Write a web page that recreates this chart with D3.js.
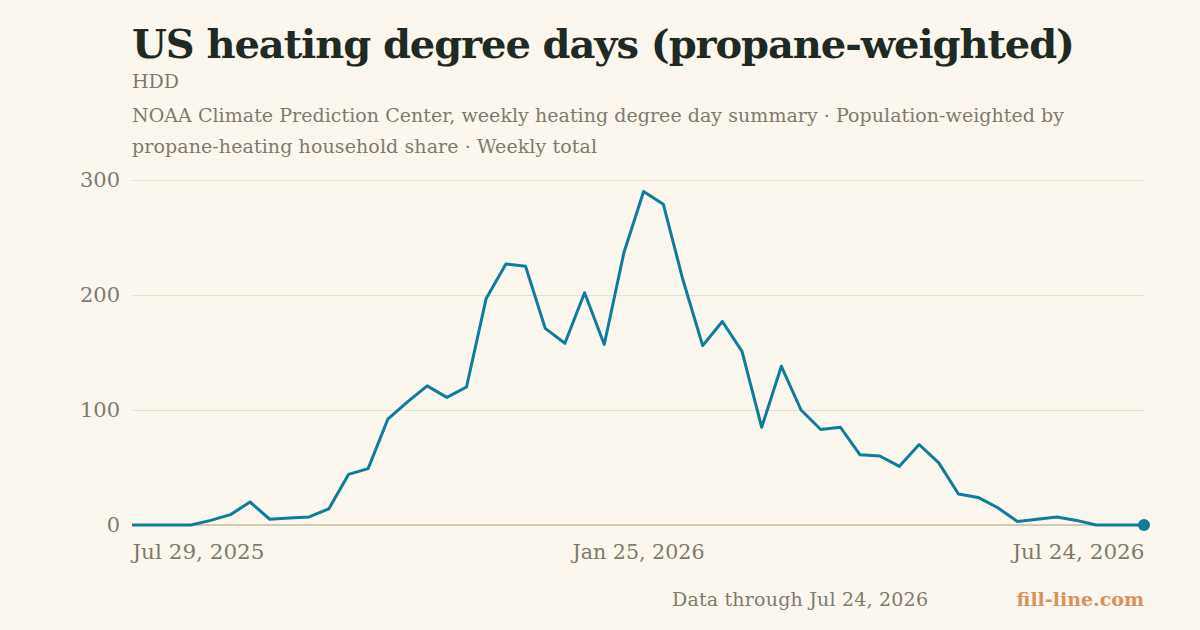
<!DOCTYPE html>
<html><head><meta charset="utf-8">
<script src="https://cdn.jsdelivr.net/npm/d3@7"></script>
<style>
body{margin:0;background:#fbf7ee;}
svg{display:block;font-family:"DejaVu Serif",Georgia,serif;}
</style></head>
<body><svg id="c" width="1200" height="630"></svg>
<script>
const width = 1200, height = 630;
const margin = {top: 180, right: 56, bottom: 105, left: 132};

// weekly totals
const startDate = new Date(2025, 6, 29);
const endDate = new Date(2026, 6, 24);
const hdd = [0,0,0,0,4,9,20,5,6,7,14,44,49,92,107,121,111,120,197,227,
  225,171,158,202,157,237,290,279,213,156,177,151,85,138,100,83,85,61,60,51,
  70,54,27,24,15,3,5,7,4,0,0,0,0];
const yTicks = [0, 100, 200, 300];
const xTicks = [new Date(2025, 6, 29), new Date(2026, 0, 25), new Date(2026, 6, 24)];

const dates = hdd.map((d, i) => i === hdd.length - 1 ? endDate : d3.timeDay.offset(startDate, 7 * i));
const data = hdd.map((v, i) => ({date: dates[i], v}));

const svg = d3.select('#c');
const x = d3.scaleTime().domain([startDate, endDate]).range([margin.left, width - margin.right]);
const y = d3.scaleLinear().domain([0, 300]).range([height - margin.bottom, margin.top]);

// titles
svg.append('text').attr('x', 132).attr('y', 58).attr('font-size', 40).attr('font-weight', 'bold')
  .attr('fill', '#1f2a24').attr('textLength', 943).text('US heating degree days (propane-weighted)');
svg.append('text').attr('x', 132).attr('y', 88).attr('font-size', 19).attr('fill', '#7d7b6c').text('HDD');
svg.append('text').attr('x', 132).attr('y', 122).attr('font-size', 19).attr('fill', '#7d7b6c')
  .attr('textLength', 932).text('NOAA Climate Prediction Center, weekly heating degree day summary · Population-weighted by');
svg.append('text').attr('x', 132).attr('y', 153).attr('font-size', 19).attr('fill', '#7d7b6c')
  .attr('textLength', 465).text('propane-heating household share · Weekly total');

// gridlines + y labels
const yAxis = d3.axisLeft(y).tickValues(yTicks).tickSize(-(width - margin.right - margin.left)).tickFormat(d3.format('d'));
const gy = svg.append('g').attr('transform', `translate(${margin.left},0)`).call(yAxis);
gy.select('.domain').remove();
gy.selectAll('.tick line').attr('stroke', '#e6e0cf');
gy.selectAll('.tick text').attr('font-size', 21).attr('fill', '#7d7b6c').attr('x', -12)
  .attr('font-family', '"DejaVu Serif",Georgia,serif');

// x axis
svg.append('line').attr('x1', margin.left).attr('x2', width - margin.right)
  .attr('y1', y(0)).attr('y2', y(0)).attr('stroke', '#cbbf9f').attr('stroke-width', 1.5);
const xAxis = d3.axisBottom(x).tickValues(xTicks).tickSize(0).tickFormat(d3.timeFormat('%b %-d, %Y'));
const gx = svg.append('g').attr('transform', `translate(0,${y(0)})`).call(xAxis);
gx.select('.domain').remove();
gx.selectAll('.tick text').attr('font-size', 21).attr('fill', '#7d7b6c').attr('dy', 31)
  .attr('font-family', '"DejaVu Serif",Georgia,serif')
  .attr('textLength', 132).attr('lengthAdjust', 'spacingAndGlyphs')
  .attr('text-anchor', (d, i) => i === 0 ? 'start' : i === 2 ? 'end' : 'middle');

// line
const line = d3.line().x(d => x(d.date)).y(d => y(d.v));
svg.append('path').datum(data).attr('d', line).attr('fill', 'none')
  .attr('stroke', '#0e7c9b').attr('stroke-width', 3).attr('stroke-linejoin', 'round');
const last = data[data.length - 1];
svg.append('circle').attr('cx', x(last.date)).attr('cy', y(last.v)).attr('r', 6).attr('fill', '#0e7c9b');

// footer
svg.append('text').attr('x', 928).attr('y', 606).attr('text-anchor', 'end').attr('font-size', 19)
  .attr('fill', '#7d7b6c').attr('textLength', 256).text('Data through Jul 24, 2026');
svg.append('text').attr('x', 1144).attr('y', 606).attr('text-anchor', 'end').attr('font-size', 19)
  .attr('font-weight', 'bold').attr('fill', '#d4935a').text('fill-line.com');
</script></body></html>
